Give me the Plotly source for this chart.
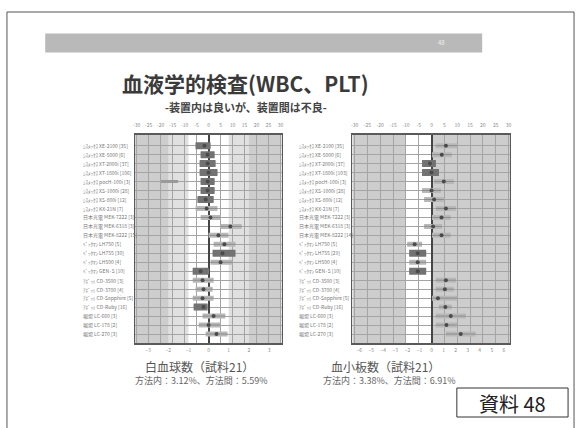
import plotly.graph_objects as go

W, H = 581, 428

# ---------------- data ----------------
row_labels_wbc = [
    "ｼｽﾒｯｸｽ XE-2100 [35]", "ｼｽﾒｯｸｽ XE-5000 [6]", "ｼｽﾒｯｸｽ XT-2000i [37]",
    "ｼｽﾒｯｸｽ XT-1800i [106]", "ｼｽﾒｯｸｽ pocH-100i [3]", "ｼｽﾒｯｸｽ XS-1000i [28]",
    "ｼｽﾒｯｸｽ XS-800i [12]", "ｼｽﾒｯｸｽ KX-21N [7]", "日本光電 MEK-7222 [3]",
    "日本光電 MEK-6318 [3]", "日本光電 MEK-8222 [15]", "ﾍﾞｯｸﾏﾝ LH750 [5]",
    "ﾍﾞｯｸﾏﾝ LH755 [30]", "ﾍﾞｯｸﾏﾝ LH500 [4]", "ﾍﾞｯｸﾏﾝ GEN･S [10]",
    "ｱﾎﾞｯﾄ CD-3500 [3]", "ｱﾎﾞｯﾄ CD-3700 [4]", "ｱﾎﾞｯﾄ CD-Sapphire [5]",
    "ｱﾎﾞｯﾄ CD-Ruby [16]", "堀場 LC-660 [3]", "堀場 LC-178 [2]", "堀場 LC-270 [3]",
]
row_labels_plt = [
    "ｼｽﾒｯｸｽ XE-2100 [35]", "ｼｽﾒｯｸｽ XE-5000 [6]", "ｼｽﾒｯｸｽ XT-2000i [37]",
    "ｼｽﾒｯｸｽ XT-1800i [103]", "ｼｽﾒｯｸｽ pocH-100i [3]", "ｼｽﾒｯｸｽ XS-1000i [28]",
    "ｼｽﾒｯｸｽ XS-800i [12]", "ｼｽﾒｯｸｽ KX-21N [7]", "日本光電 MEK-7222 [3]",
    "日本光電 MEK-6318 [3]", "日本光電 MEK-8222 [14]", "ﾍﾞｯｸﾏﾝ LH750 [5]",
    "ﾍﾞｯｸﾏﾝ LH755 [29]", "ﾍﾞｯｸﾏﾝ LH500 [4]", "ﾍﾞｯｸﾏﾝ GEN･S [10]",
    "ｱﾎﾞｯﾄ CD-3500 [3]", "ｱﾎﾞｯﾄ CD-3700 [4]", "ｱﾎﾞｯﾄ CD-Sapphire [5]",
    "ｱﾎﾞｯﾄ CD-Ruby [16]", "堀場 LC-660 [3]", "堀場 LC-178 [2]", "堀場 LC-270 [3]",
]

top_tick_vals = [-30, -25, -20, -15, -10, -5, 0, 5, 10, 15, 20, 25, 30]
top_tick_text = ["-30", "-25", "-20", "-15", "-10", "-5", "0", "5", "10", "15", "20", "25", "30"]
wbc_bottom_ticks = [-3, -2, -1, 0, 1, 2, 3]
plt_bottom_ticks = [-6, -5, -4, -3, -2, -1, 0, 1, 2, 3, 4, 5, 6]

# WBC (sample 21): % deviation per analyser group
wbc_lo = [-5.4, -3.3, -3.7, -3.7, -3.3, -3.3, -4.6, -5.4, -3.3, 5.0, 0.0, 2.1,
          1.7, 0.8, -6.6, -6.6, -5.4, -6.6, -6.2, -2.5, -4.1, -1.2]
wbc_hi = [0.8, 2.5, 2.9, 3.7, 2.5, 2.5, 2.1, 3.7, 5.0, 13.8, 8.3, 11.2,
          11.2, 9.9, 0.0, 2.1, 1.7, 2.1, -0.4, 7.0, 5.0, 7.9]
wbc_mean = [-1.7, -0.4, -0.4, 0.0, -0.4, -0.4, -1.2, -0.8, 0.8, 9.1, 4.1, 6.6,
            5.8, 5.0, -3.3, -2.5, -2.1, -2.5, -2.1, 2.1, 0.0, 3.3]
wbc_dense = [1, 1, 1, 1, 1, 1, 1, 0, 0, 0, 0, 0, 1, 0, 1, 0, 0, 0, 1, 0, 0, 0]
wbc_out_row = [4]
wbc_out_lo = [-19.8]
wbc_out_hi = [-12.7]

# PLT (sample 21)
plt_lo = [1.6, 0.2, -3.7, -3.7, 1.0, -3.7, -2.9, 1.7, 0.2, -2.9, 0.2, -9.5,
          -8.7, -8.7, -8.7, 1.7, 1.7, 0.2, 2.9, 1.7, 1.7, 5.6]
plt_hi = [10.0, 7.9, 1.7, 2.9, 8.7, 3.7, 4.8, 9.5, 7.5, 4.1, 7.5, -3.7,
          -2.1, -2.1, -2.1, 9.5, 8.7, 9.9, 7.9, 13.4, 9.9, 17.2]
plt_mean = [5.6, 4.0, -0.6, 0.0, 4.8, 0.0, 1.0, 5.6, 3.9, 0.6, 3.9, -6.6,
            -5.4, -5.4, -5.4, 5.6, 5.2, 2.5, 5.4, 7.5, 5.8, 11.4]
plt_dense = [0, 0, 1, 1, 0, 0, 0, 0, 0, 0, 0, 0, 1, 0, 1, 0, 0, 0, 0, 0, 0, 0]

JP = "Noto Sans CJK JP"


def px(x):
    return x / W


def py(y):
    return 1 - y / H


fig = go.Figure()


def add_rows(xa, ya, lo, hi, mean, dense):
    xs, ys, xd, yd = [], [], [], []
    for i in range(len(lo)):
        xs += [lo[i], hi[i], None]
        ys += [i, i, None]
        if dense[i]:
            xd += [lo[i], hi[i], None]
            yd += [i, i, None]
    fig.add_trace(go.Scatter(x=xs, y=ys, mode="lines", xaxis=xa, yaxis=ya,
                             line=dict(color="#b8b8b8", width=5),
                             hoverinfo="skip", showlegend=False))
    fig.add_trace(go.Scatter(x=xs, y=ys, mode="lines", xaxis=xa, yaxis=ya,
                             line=dict(color="#8c8c8c", width=1),
                             hoverinfo="skip", showlegend=False))
    fig.add_trace(go.Scatter(x=xd, y=yd, mode="lines", xaxis=xa, yaxis=ya,
                             line=dict(color="#727272", width=7),
                             hoverinfo="skip", showlegend=False))
    fig.add_trace(go.Scatter(x=mean, y=list(range(len(mean))), mode="markers",
                             xaxis=xa, yaxis=ya,
                             marker=dict(color="#4a4a4a", size=4),
                             hoverinfo="skip", showlegend=False))


add_rows("x", "y", wbc_lo, wbc_hi, wbc_mean, wbc_dense)
xo, yo = [], []
for r, a, b in zip(wbc_out_row, wbc_out_lo, wbc_out_hi):
    xo += [a, b, None]
    yo += [r, r, None]
fig.add_trace(go.Scatter(x=xo, y=yo, mode="lines", xaxis="x", yaxis="y",
                         line=dict(color="#9a9a9a", width=3),
                         hoverinfo="skip", showlegend=False))
add_rows("x2", "y2", plt_lo, plt_hi, plt_mean, plt_dense)

# geometry of plot areas (pixels)
L1, R1 = 134, 281.7
L2, R2 = 352.7, 511.7
TOP, BOT = 135, 343
n = len(wbc_lo)
yr = [n - 1 + 1.0, -1.19]
xr1 = [-30.62, 30.5]
xr2 = [-30.9, 30.66]
sd1, sd2 = 8.4, 4.70

tickfont = dict(family=JP, size=5, color="#8a8a8a")
grid = "#a4a4a4"

common_x = dict(showgrid=True, gridcolor=grid, gridwidth=1, zeroline=True,
                zerolinecolor="#454545", zerolinewidth=2, showline=True,
                linecolor="#5a5a5a", linewidth=1.5, mirror=True, ticks="",
                tickfont=tickfont, side="top", tickvals=top_tick_vals,
                ticktext=top_tick_text, ticklabelstandoff=4, fixedrange=True)
common_y = dict(showgrid=True, gridcolor=grid, gridwidth=1, zeroline=False,
                showline=True, linecolor="#5a5a5a", linewidth=1, mirror=True,
                showticklabels=False, ticks="", tickvals=list(range(n)),
                range=yr, domain=[py(BOT), py(TOP)], fixedrange=True)

fig.update_layout(
    width=W, height=H, margin=dict(l=0, r=0, t=0, b=0),
    paper_bgcolor="white", plot_bgcolor="white",
    xaxis=dict(domain=[px(L1), px(R1)], anchor="y", range=xr1, **common_x),
    xaxis2=dict(domain=[px(L2), px(R2)], anchor="y2", range=xr2, **common_x),
    xaxis3=dict(overlaying="x", anchor="y", side="bottom",
                range=[xr1[0] / sd1, xr1[1] / sd1], tickvals=wbc_bottom_ticks,
                showgrid=False, zeroline=False, showline=False, ticks="",
                tickfont=tickfont, ticklabelstandoff=3),
    xaxis4=dict(overlaying="x2", anchor="y2", side="bottom",
                range=[xr2[0] / sd2, xr2[1] / sd2], tickvals=plt_bottom_ticks,
                showgrid=False, zeroline=False, showline=False, ticks="",
                tickfont=tickfont, ticklabelstandoff=3),
    yaxis=dict(anchor="x", **common_y),
    yaxis2=dict(anchor="x2", **common_y),
)
# invisible traces to activate the bottom axes
fig.add_trace(go.Scatter(x=[0], y=[0], xaxis="x3", yaxis="y", mode="markers",
                         marker=dict(opacity=0), hoverinfo="skip", showlegend=False))
fig.add_trace(go.Scatter(x=[0], y=[0], xaxis="x4", yaxis="y2", mode="markers",
                         marker=dict(opacity=0), hoverinfo="skip", showlegend=False))

shapes = []
# background shading of plot areas
for (a, b, c) in [(xr1[0], xr1[1], "#cdcdcd"), (-2 * sd1, 2 * sd1, "#e0e0e0"),
                  (-sd1, sd1, "#ffffff")]:
    shapes.append(dict(type="rect", xref="x", yref="y domain", x0=a, x1=b, y0=0, y1=1,
                       fillcolor=c, line=dict(width=0), layer="below"))
for (a, b, c) in [(xr2[0], xr2[1], "#cdcdcd"), (-10.3, 0, "#ffffff")]:
    shapes.append(dict(type="rect", xref="x2", yref="y2 domain", x0=a, x1=b, y0=0, y1=1,
                       fillcolor=c, line=dict(width=0), layer="below"))
# slide frame
shapes.append(dict(type="rect", xref="paper", yref="paper", x0=px(5), x1=px(576),
                   y0=py(440), y1=py(12), line=dict(color="#555", width=1),
                   fillcolor="rgba(0,0,0,0)", layer="below"))
# banner
shapes.append(dict(type="rect", xref="paper", yref="paper", x0=px(43.5), x1=px(483.5),
                   y0=py(52.5), y1=py(33.5), line=dict(width=0),
                   fillcolor="#b9b9b9", layer="below"))
# 資料 box
shapes.append(dict(type="rect", xref="paper", yref="paper", x0=px(458), x1=px(570),
                   y0=py(417), y1=py(388), line=dict(color="#333", width=1),
                   fillcolor="white"))
fig.update_layout(shapes=shapes)

ann = []


def text(x, y, s, size, color="#333", anchor="center", bold=False):
    ann.append(dict(x=px(x), y=py(y), xref="paper", yref="paper", text=(f"<b>{s}</b>" if bold else s),
                    showarrow=False, xanchor=anchor, yanchor="middle",
                    font=dict(family=JP, size=size, color=color)))


text(443, 43, "48", 6, "#eeeeee")
text(245, 83, "血液学的検査(WBC、PLT)", 21, "#3a3a3a", bold=True)
text(246, 106.5, "-装置内は良いが、装置間は不良-", 11, "#444", bold=True)
text(199, 366, "白血球数（試料21）", 12, "#555")
text(201, 380, "方法内：3.12%、方法間：5.59%", 9, "#666")
text(386, 366, "血小板数（試料21）", 12, "#555")
text(390, 380, "方法内：3.38%、方法間：6.91%", 9, "#666")
text(514, 403, "資料 48", 20, "#222")

for i, s in enumerate(row_labels_wbc):
    ann.append(dict(x=px(80), y=i, xref="paper", yref="y", text=s, showarrow=False,
                    xanchor="left", yanchor="middle",
                    font=dict(family=JP, size=5, color="#777")))
for i, s in enumerate(row_labels_plt):
    ann.append(dict(x=px(297), y=i, xref="paper", yref="y2", text=s, showarrow=False,
                    xanchor="left", yanchor="middle",
                    font=dict(family=JP, size=5, color="#777")))
fig.update_layout(annotations=ann)

fig.write_html("out.html")
